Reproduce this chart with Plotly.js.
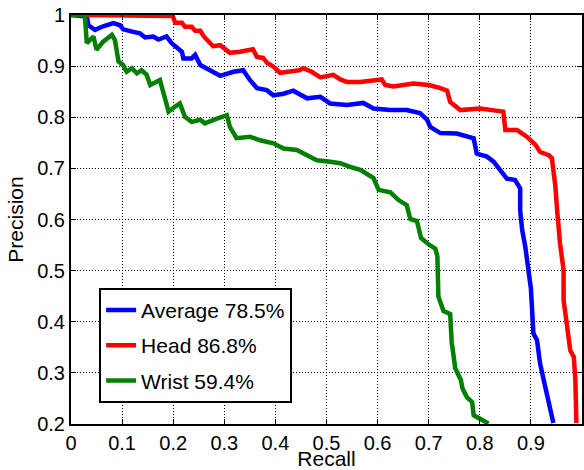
<!DOCTYPE html>
<html>
<head>
<meta charset="utf-8">
<script src="https://cdn.plot.ly/plotly-3.0.1.min.js"></script>
<style>html,body{margin:0;padding:0;background:#fff;}#chart{width:584px;height:470px;}</style>
</head>
<body>
<div id="chart"></div>
<script>
// Average 78.5%
var avgRecall = [0.0, 0.031, 0.034, 0.047, 0.063, 0.083, 0.096, 0.102, 0.122, 0.135, 0.145, 0.161, 0.171, 0.187, 0.197, 0.207, 0.217, 0.220, 0.236, 0.243, 0.253, 0.272, 0.292, 0.318, 0.337, 0.350, 0.364, 0.383, 0.396, 0.416, 0.435, 0.462, 0.488, 0.507, 0.540, 0.572, 0.592, 0.625, 0.657, 0.683, 0.697, 0.703, 0.723, 0.755, 0.788, 0.794, 0.814, 0.827, 0.840, 0.853, 0.869, 0.879, 0.879, 0.883, 0.889, 0.895, 0.900, 0.902, 0.905, 0.912, 0.918, 0.928, 0.938, 0.944];
var avgPrecision = [1.0, 0.997, 0.980, 0.971, 0.978, 0.984, 0.980, 0.972, 0.967, 0.964, 0.956, 0.958, 0.952, 0.958, 0.945, 0.935, 0.928, 0.915, 0.915, 0.922, 0.902, 0.892, 0.881, 0.889, 0.892, 0.873, 0.857, 0.853, 0.843, 0.846, 0.852, 0.837, 0.840, 0.827, 0.824, 0.828, 0.817, 0.814, 0.814, 0.808, 0.795, 0.781, 0.769, 0.768, 0.759, 0.729, 0.723, 0.713, 0.697, 0.680, 0.677, 0.661, 0.618, 0.579, 0.547, 0.507, 0.465, 0.429, 0.377, 0.364, 0.318, 0.273, 0.233, 0.202];

// Head 86.8%
var headRecall = [0.03, 0.199, 0.204, 0.217, 0.223, 0.236, 0.243, 0.253, 0.260, 0.278, 0.292, 0.302, 0.311, 0.331, 0.356, 0.364, 0.376, 0.384, 0.396, 0.409, 0.423, 0.448, 0.454, 0.471, 0.488, 0.513, 0.527, 0.540, 0.566, 0.608, 0.615, 0.631, 0.670, 0.700, 0.723, 0.736, 0.742, 0.762, 0.801, 0.846, 0.850, 0.873, 0.892, 0.909, 0.918, 0.935, 0.941, 0.944, 0.948, 0.951, 0.954, 0.957, 0.964, 0.964, 0.971, 0.977, 0.984, 0.987, 0.989];
var headPrecision = [1.0, 0.998, 0.985, 0.985, 0.977, 0.977, 0.969, 0.969, 0.958, 0.939, 0.941, 0.932, 0.926, 0.928, 0.933, 0.918, 0.916, 0.906, 0.899, 0.887, 0.889, 0.892, 0.896, 0.889, 0.878, 0.883, 0.874, 0.869, 0.869, 0.874, 0.863, 0.860, 0.866, 0.863, 0.857, 0.852, 0.830, 0.814, 0.817, 0.811, 0.775, 0.775, 0.762, 0.746, 0.732, 0.726, 0.720, 0.697, 0.664, 0.622, 0.589, 0.553, 0.501, 0.442, 0.390, 0.344, 0.331, 0.286, 0.202];

// Wrist 59.4%
var wristRecall = [0.0, 0.027, 0.031, 0.044, 0.050, 0.063, 0.080, 0.086, 0.093, 0.102, 0.109, 0.119, 0.129, 0.138, 0.148, 0.155, 0.174, 0.184, 0.191, 0.204, 0.213, 0.223, 0.236, 0.253, 0.262, 0.279, 0.305, 0.311, 0.324, 0.350, 0.370, 0.396, 0.416, 0.442, 0.462, 0.481, 0.507, 0.527, 0.546, 0.566, 0.592, 0.602, 0.625, 0.641, 0.657, 0.664, 0.677, 0.685, 0.699, 0.713, 0.717, 0.719, 0.729, 0.742, 0.745, 0.752, 0.763, 0.766, 0.775, 0.785, 0.788, 0.801, 0.817];
var wristPrecision = [1.0, 1.0, 0.945, 0.958, 0.932, 0.948, 0.961, 0.951, 0.909, 0.902, 0.889, 0.896, 0.886, 0.892, 0.883, 0.863, 0.873, 0.834, 0.811, 0.821, 0.827, 0.801, 0.791, 0.795, 0.788, 0.795, 0.804, 0.781, 0.759, 0.762, 0.755, 0.749, 0.739, 0.736, 0.726, 0.716, 0.713, 0.710, 0.703, 0.697, 0.681, 0.658, 0.653, 0.638, 0.628, 0.601, 0.597, 0.564, 0.552, 0.543, 0.528, 0.449, 0.421, 0.415, 0.360, 0.309, 0.286, 0.270, 0.252, 0.243, 0.217, 0.210, 0.201];

var seriesNames = ["Average 78.5%", "Head 86.8%", "Wrist 59.4%"];
var seriesColors = ["#0000ff", "#ff0000", "#008000"];

var xTickVals = [0, 0.1, 0.2, 0.3, 0.4, 0.5, 0.6, 0.7, 0.8, 0.9, 1];
var xTickText = ["0", "0.1", "0.2", "0.3", "0.4", "0.5", "0.6", "0.7", "0.8", "0.9", "1"];
var yTickVals = [0.2, 0.3, 0.4, 0.5, 0.6, 0.7, 0.8, 0.9, 1];
var yTickText = ["0.2", "0.3", "0.4", "0.5", "0.6", "0.7", "0.8", "0.9", "1"];

var xs = [avgRecall, headRecall, wristRecall];
var ys = [avgPrecision, headPrecision, wristPrecision];
var traces = [];
for (var i = 0; i < 3; i++) {
  traces.push({
    x: xs[i], y: ys[i], type: "scatter", mode: "lines",
    name: seriesNames[i], legendgroup: "g" + i,
    line: {color: seriesColors[i], width: 4.5},
    cliponaxis: true
  });
}

var FONT = "Liberation Sans, Arial, Helvetica, sans-serif";
var axisCommon = {
  showline: true, linecolor: "#000", linewidth: 2, mirror: "ticks",
  ticks: "inside", ticklen: 5, tickwidth: 1, tickcolor: "#000",
  showgrid: true, gridcolor: "#000", gridwidth: 1, griddash: "1px,2px",
  zeroline: false, tickfont: {family: FONT, size: 20, color: "#000"}
};

var layout = {
  width: 584, height: 470,
  margin: {l: 71, r: 2, t: 15, b: 46},
  paper_bgcolor: "#fff", plot_bgcolor: "#fff",
  font: {family: FONT, color: "#000"},
  showlegend: true,
  xaxis: Object.assign({}, axisCommon, {
    range: [0, 1], tickvals: xTickVals, ticktext: xTickText,
    title: {text: "Recall", font: {family: FONT, size: 21, color: "#000"}, standoff: 0}
  }),
  yaxis: Object.assign({}, axisCommon, {
    range: [0.2, 1], tickvals: yTickVals, ticktext: yTickText,
    title: {text: "Precision", font: {family: FONT, size: 21, color: "#000"}, standoff: 8}
  }),
  legend: {
    x: 0.055, y: 0.333, xanchor: "left", yanchor: "top",
    bgcolor: "#fff", bordercolor: "#000", borderwidth: 2,
    font: {family: FONT, size: 21, color: "#000"},
    traceorder: "grouped", tracegroupgap: 5, itemwidth: 30
  }
};

Plotly.newPlot("chart", traces, layout, {displayModeBar: false, staticPlot: true});
</script>
</body>
</html>
